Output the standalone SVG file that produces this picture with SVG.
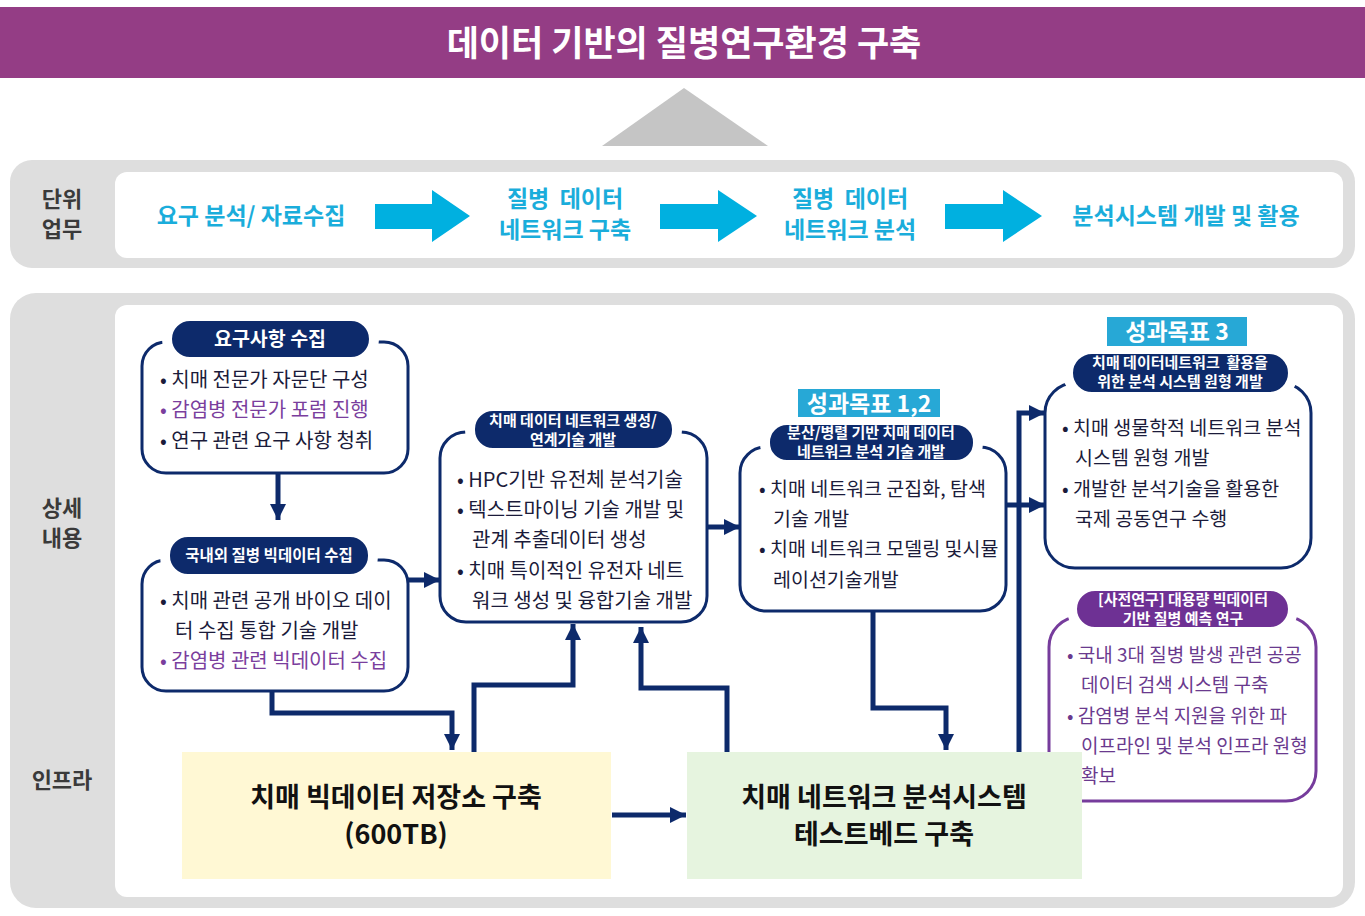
<svg xmlns="http://www.w3.org/2000/svg" width="1365" height="916" viewBox="0 0 1365 916">
<defs>
<style>
.k{font-family:"Noto Sans CJK KR","Noto Sans",sans-serif}
.b{font-weight:bold}
.box{fill:#fff;stroke:#0D2A6B;stroke-width:3}
.pbox{fill:#fff;stroke:#763C9C;stroke-width:3}
.pill{fill:#0D2A6B;stroke:#fff;stroke-width:10}
.ppill{fill:#6E3194;stroke:#fff;stroke-width:10}
.pt{fill:#fff;font-size:15px;font-weight:bold;text-anchor:middle}
.bt{fill:#1B1B3A;font-size:20px}
.bs{fill:#1B1B3A;font-size:19.5px}
.pu{fill:#7A3E9D}
.pv{fill:#6A3A8E;font-size:19px}
.cy{fill:#1AADDB;font-size:23px;font-weight:bold;text-anchor:middle}
.lab{fill:#3A3A3A;font-size:22px;font-weight:bold;text-anchor:middle}
.con{fill:none;stroke:#0D2A6B;stroke-width:5}
.goal{fill:#27A8D6}
.gt{fill:#fff;font-size:23px;font-weight:bold;text-anchor:middle}
.inf{fill:#111;font-size:27px;font-weight:bold;text-anchor:middle}
</style>
<marker id="ah" markerUnits="userSpaceOnUse" markerWidth="18" markerHeight="18" viewBox="0 0 18 18" refX="16" refY="9" orient="auto">
<path d="M0,1 L16,9 L0,17 Z" fill="#0D2A6B"/>
</marker>
</defs>
<rect width="1365" height="916" fill="#fff"/>

<g id="banner">
<rect x="0" y="7" width="1365" height="71" fill="#943D85"/>
<text x="684" y="56" class="k b" font-size="35" fill="#fff" text-anchor="middle">데이터 기반의 질병연구환경 구축</text>
</g>
<polygon points="602,146 684,88 768,146" fill="#C5C5C5"/>

<g id="row1">
<rect x="10" y="160" width="1345" height="108" rx="22" fill="#DEDEDE"/>
<rect x="115" y="172" width="1228" height="86" rx="12" fill="#fff"/>
<text class="k lab" x="62" y="207"><tspan x="62">단위</tspan><tspan x="62" dy="30">업무</tspan></text>
<text class="k cy" x="251" y="224">요구 분석/ 자료수집</text>
<text class="k cy" x="565" y="207"><tspan x="565" xml:space="preserve">질병  데이터</tspan><tspan x="565" dy="31">네트워크 구축</tspan></text>
<text class="k cy" x="850" y="207"><tspan x="850" xml:space="preserve">질병  데이터</tspan><tspan x="850" dy="31">네트워크 분석</tspan></text>
<text class="k cy" x="1186" y="224">분석시스템 개발 및 활용</text>
<polygon points="375,204 432,204 432,190 470,216 432,242 432,229 375,229" fill="#00B0E0"/>
<polygon points="660,204 718,204 718,190 757,216 718,242 718,229 660,229" fill="#00B0E0"/>
<polygon points="945,204 1003,204 1003,190 1042,216 1003,242 1003,229 945,229" fill="#00B0E0"/>
</g>

<g id="row2bg">
<rect x="10" y="293" width="1345" height="615" rx="26" fill="#DEDEDE"/>
<rect x="115" y="305" width="1228" height="592" rx="12" fill="#fff"/>
<text class="k lab" x="62" y="516"><tspan x="62">상세</tspan><tspan x="62" dy="30">내용</tspan></text>
<text class="k lab" x="62" y="788">인프라</text>
</g>

<g id="connectors">
<path class="con" d="M278,473 V520" marker-end="url(#ah)"/>
<path class="con" d="M408,580 H440" marker-end="url(#ah)"/>
<path class="con" d="M707,527 H740" marker-end="url(#ah)"/>
<path class="con" d="M1006,505 H1045" marker-end="url(#ah)"/>
<path class="con" d="M1019,752 V413 H1045" marker-end="url(#ah)"/>
<path class="con" d="M873,611 V708 H946 V750" marker-end="url(#ah)"/>
<path class="con" d="M272,691 V713 H452 V750" marker-end="url(#ah)"/>
<path class="con" d="M474,752 V685 H573 V624" marker-end="url(#ah)"/>
<path class="con" d="M727,752 V688 H641 V627" marker-end="url(#ah)"/>
<path class="con" d="M612,815 H686" marker-end="url(#ah)"/>
</g>

<g id="req">
<rect class="box" x="142" y="342" width="266" height="131" rx="24"/>
<rect class="pill" x="167" y="316" width="207" height="46" rx="23"/>
<text class="k b" x="270" y="346" fill="#fff" font-size="19.5" text-anchor="middle">요구사항 수집</text>
<text class="k bt" x="160" y="387">• 치매 전문가 자문단 구성</text>
<text class="k bt pu" x="160" y="417">• 감염병 전문가 포럼 진행</text>
<text class="k bt" x="160" y="448">• 연구 관련 요구 사항 청취</text>
</g>

<g id="collect">
<rect class="box" x="142" y="560" width="266" height="131" rx="24"/>
<rect class="pill" x="165" y="532" width="208" height="47" rx="23"/>
<text class="k b" x="269" y="561" fill="#fff" font-size="15.5" text-anchor="middle">국내외 질병 빅데이터 수집</text>
<text class="k bt" x="160" y="608">• 치매 관련 공개 바이오 데이</text>
<text class="k bt" x="175" y="638">터 수집 통합 기술 개발</text>
<text class="k bt pu" x="160" y="668">• 감염병 관련 빅데이터 수집</text>
</g>

<g id="network">
<rect class="box" x="440" y="432" width="267" height="190" rx="26"/>
<rect class="pill" x="470" y="406" width="207" height="47" rx="23"/>
<text class="k pt" x="573" y="426"><tspan x="573">치매 데이터 네트워크 생성/</tspan><tspan x="573" dy="19">연계기술 개발</tspan></text>
<text class="k bt" x="457" y="487">• HPC기반 유전체 분석기술</text>
<text class="k bt" x="457" y="517">• 텍스트마이닝 기술 개발 및</text>
<text class="k bt" x="472" y="547">관계 추출데이터 생성</text>
<text class="k bt" x="457" y="578">• 치매 특이적인 유전자 네트</text>
<text class="k bt" x="472" y="608">워크 생성 및 융합기술 개발</text>
</g>

<g id="analysis">
<rect class="box" x="740" y="447" width="266" height="164" rx="26"/>
<rect class="pill" x="765" y="420" width="213" height="45" rx="22"/>
<rect class="goal" x="798" y="389" width="142" height="28"/>
<text class="k gt" x="869" y="412">성과목표 1,2</text>
<text class="k pt" x="871" y="438"><tspan x="871">분산/병렬 기반 치매 데이터</tspan><tspan x="871" dy="19">네트워크 분석 기술 개발</tspan></text>
<text class="k bs" x="759" y="496">• 치매 네트워크 군집화, 탐색</text>
<text class="k bs" x="773" y="526">기술 개발</text>
<text class="k bs" x="759" y="556">• 치매 네트워크 모델링 및시뮬</text>
<text class="k bs" x="773" y="587">레이션기술개발</text>
</g>

<g id="system">
<rect class="box" x="1045" y="383" width="266" height="185" rx="30"/>
<rect class="pill" x="1068" y="349" width="225" height="48" rx="24"/>
<rect class="goal" x="1107" y="317" width="140" height="29"/>
<text class="k gt" x="1177" y="340">성과목표 3</text>
<text class="k pt" x="1180" y="368"><tspan x="1180" xml:space="preserve">치매 데이터네트워크  활용을</tspan><tspan x="1180" dy="19">위한 분석 시스템 원형 개발</tspan></text>
<text class="k bs" x="1062" y="435">• 치매 생물학적 네트워크 분석</text>
<text class="k bs" x="1075" y="465">시스템 원형 개발</text>
<text class="k bs" x="1062" y="496">• 개발한 분석기술을 활용한</text>
<text class="k bs" x="1075" y="526">국제 공동연구 수행</text>
</g>

<g id="prestudy">
<rect class="pbox" x="1049" y="617" width="267" height="184" rx="30"/>
<rect class="ppill" x="1072" y="586" width="221" height="46" rx="23"/>
<text class="k pt" x="1183" y="605"><tspan x="1183">[사전연구] 대용량 빅데이터</tspan><tspan x="1183" dy="19">기반 질병 예측 연구</tspan></text>
<text class="k pv" x="1067" y="662">• 국내 3대 질병 발생 관련 공공</text>
<text class="k pv" x="1081" y="692">데이터 검색 시스템 구축</text>
<text class="k pv" x="1067" y="723">• 감염병 분석 지원을 위한 파</text>
<text class="k pv" x="1081" y="753">이프라인 및 분석 인프라 원형</text>
<text class="k pv" x="1081" y="783">확보</text>
</g>

<g id="storage">
<rect x="182" y="752" width="429" height="127" fill="#FFF8D4"/>
<text class="k inf" x="396" y="807"><tspan x="396">치매 빅데이터 저장소 구축</tspan><tspan x="396" dy="37">(600TB)</tspan></text>
</g>

<g id="testbed">
<rect x="687" y="752" width="395" height="127" fill="#E6F4DF"/>
<text class="k inf" x="884" y="807"><tspan x="884">치매 네트워크 분석시스템</tspan><tspan x="884" dy="37">테스트베드 구축</tspan></text>
</g>
</svg>
